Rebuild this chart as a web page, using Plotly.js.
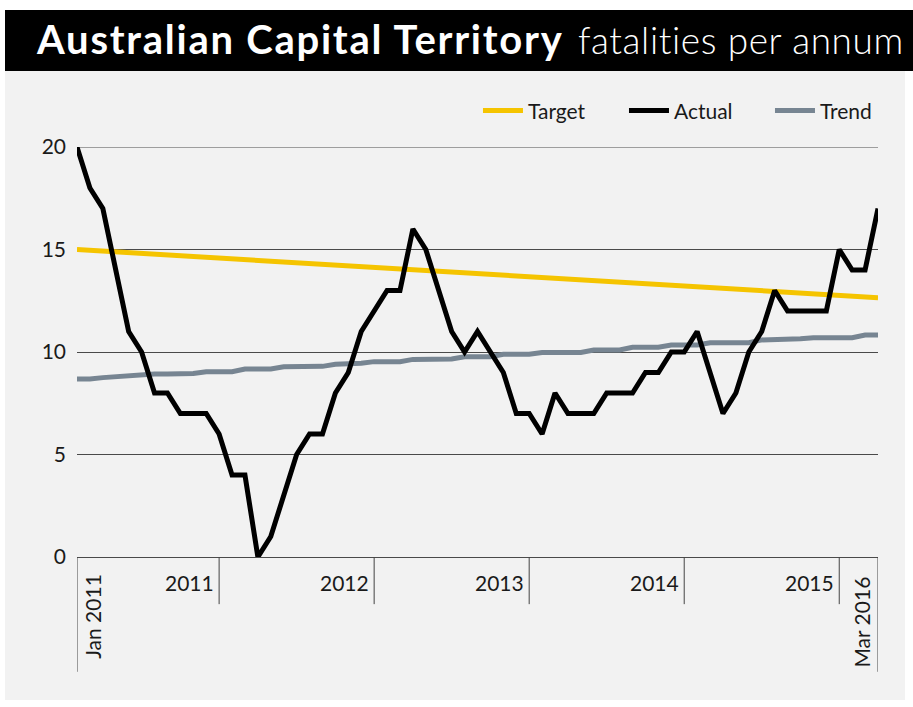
<!DOCTYPE html>
<html>
<head>
<meta charset="utf-8">
<script src="https://cdn.plot.ly/plotly-3.0.1.min.js"></script>
<style>
  html, body { margin: 0; padding: 0; background: #ffffff; width: 913px; height: 707px; overflow: hidden; }
  #header { position: absolute; left: 5px; top: 10px; width: 908px; height: 61px; background: #000; color: #fff;
            font-family: Lato, "Open Sans", sans-serif; white-space: nowrap; }
  #header .main { position: absolute; left: 32px; top: 5px; font-size: 40px; font-weight: 700; letter-spacing: 1.75px; }
  #header .sub { position: absolute; left: 573px; top: 7px; font-size: 37px; font-weight: 300; letter-spacing: 0.6px; }
  #chart { position: absolute; left: 5px; top: 71px; width: 900px; height: 629px; }
</style>
</head>
<body>
<div id="header"><span class="main">Australian Capital Territory</span><span class="sub">fatalities per annum</span></div>
<div id="chart"></div>
<script>
const months = [
  'Jan 2011','Feb 2011','Mar 2011','Apr 2011','May 2011','Jun 2011','Jul 2011','Aug 2011','Sep 2011','Oct 2011','Nov 2011','Dec 2011',
  'Jan 2012','Feb 2012','Mar 2012','Apr 2012','May 2012','Jun 2012','Jul 2012','Aug 2012','Sep 2012','Oct 2012','Nov 2012','Dec 2012',
  'Jan 2013','Feb 2013','Mar 2013','Apr 2013','May 2013','Jun 2013','Jul 2013','Aug 2013','Sep 2013','Oct 2013','Nov 2013','Dec 2013',
  'Jan 2014','Feb 2014','Mar 2014','Apr 2014','May 2014','Jun 2014','Jul 2014','Aug 2014','Sep 2014','Oct 2014','Nov 2014','Dec 2014',
  'Jan 2015','Feb 2015','Mar 2015','Apr 2015','May 2015','Jun 2015','Jul 2015','Aug 2015','Sep 2015','Oct 2015','Nov 2015','Dec 2015',
  'Jan 2016','Feb 2016','Mar 2016'
];

const actual = [20,18,17,14,11,10,8,8,7,7,7,6,
                4,4,0,1,3,5,6,6,8,9,11,12,
                13,13,16,15,13,11,10,11,10,9,7,7,
                6,8,7,7,7,8,8,8,9,9,10,10,
                11,9,7,8,10,11,13,12,12,12,12,15,
                14,14,17];

const trend = [8.68,8.68,8.75,8.8,8.8,8.85,8.93,8.93,8.93,8.95,9.04,9.04,
               9.04,9.17,9.17,9.17,9.28,9.28,9.28,9.3,9.4,9.4,9.45,9.53,
               9.53,9.53,9.64,9.64,9.64,9.66,9.77,9.77,9.77,9.89,9.89,9.89,
               9.98,9.98,9.98,9.98,10.1,10.1,10.1,10.23,10.23,10.23,10.34,10.34,
               10.34,10.45,10.45,10.45,10.45,10.59,10.59,10.59,10.65,10.7,10.7,10.7,
               10.7,10.83,10.83];

const targetX = ['Jan 2011','Mar 2016'];
const targetY = [15, 12.65];

const yearLabels = ['2011','2012','2013','2014','2015'];
const yearEnds = ['Dec 2011','Dec 2012','Dec 2013','Dec 2014','Dec 2015'];
const edgeLabels = ['Jan 2011','Mar 2016'];
const yTicks = [0,5,10,15,20];

const FONT = 'Lato, "Open Sans", sans-serif';
const TXT = '#1a1a1a';
const GRID = '#4a4a4a';
const FS = 21;

const traces = [
  {x: targetX, y: targetY, name: 'Target', mode: 'lines', type: 'scatter',
   line: {color: '#F5C400', width: 5}, legendrank: 1},
  {x: months, y: trend, name: 'Trend', mode: 'lines', type: 'scatter',
   line: {color: '#778592', width: 5}, legendrank: 3},
  {x: months, y: actual, name: 'Actual', mode: 'lines', type: 'scatter',
   line: {color: '#000000', width: 5}, legendrank: 2}
];

const idx = m => months.indexOf(m);
const shapes = [
  {type: 'line', xref: 'paper', yref: 'y', x0: 0, x1: 1, y0: yTicks[yTicks.length - 1], y1: yTicks[yTicks.length - 1],
   line: {color: GRID, width: 1}, layer: 'below'}
];
const annotations = [];
yearEnds.forEach((m, i) => {
  shapes.push({type: 'line', xref: 'x', yref: 'paper', x0: idx(m), x1: idx(m), y0: 0, y1: -0.115,
               line: {color: '#444', width: 1}});
  annotations.push({xref: 'x', yref: 'paper', x: idx(m), y: -0.063, xanchor: 'right', yanchor: 'middle',
                    xshift: -3, text: yearLabels[i], showarrow: false, font: {family: FONT, size: FS, color: TXT}});
});
[0, months.length - 1].forEach((k, j) => {
  shapes.push({type: 'line', xref: 'x', yref: 'paper', x0: k, x1: k, y0: 0, y1: -0.28,
               line: {color: '#444', width: 1}});
  annotations.push({xref: 'x', yref: 'paper', x: k, y: j === 0 ? -0.146 : -0.16, xanchor: 'center', yanchor: 'middle',
                    xshift: j === 0 ? 16 : -16, textangle: -90, text: edgeLabels[j], showarrow: false,
                    font: {family: FONT, size: FS, color: TXT}});
});

const layout = {
  width: 900, height: 629,
  margin: {l: 72, r: 27, t: 76, b: 143, autoexpand: false},
  paper_bgcolor: '#f2f2f2', plot_bgcolor: '#f2f2f2',
  font: {family: FONT, size: FS, color: TXT},
  showlegend: true,
  legend: {orientation: 'h', x: 0.5006, xanchor: 'left', y: 1.088, yanchor: 'middle',
           bgcolor: 'rgba(0,0,0,0)', font: {family: FONT, size: FS, color: TXT}, traceorder: 'normal',
           itemwidth: 40, entrywidth: 91, entrywidthmode: 'pixels', tracegroupgap: 0},
  xaxis: {type: 'category', categoryorder: 'array', categoryarray: months,
          range: [0, months.length - 1], showticklabels: false, ticks: '', showgrid: false,
          zeroline: false, showline: false, fixedrange: true},
  yaxis: {range: [0, 20], tickvals: yTicks, ticktext: yTicks.map(String), showgrid: true,
          gridcolor: GRID, gridwidth: 1, zeroline: true, zerolinecolor: GRID, zerolinewidth: 1,
          showline: false, ticks: '', ticklabelstandoff: 10, tickfont: {family: FONT, size: FS, color: TXT},
          fixedrange: true},
  shapes: shapes,
  annotations: annotations
};

Plotly.newPlot('chart', traces, layout, {staticPlot: true, displayModeBar: false});
</script>
</body>
</html>
